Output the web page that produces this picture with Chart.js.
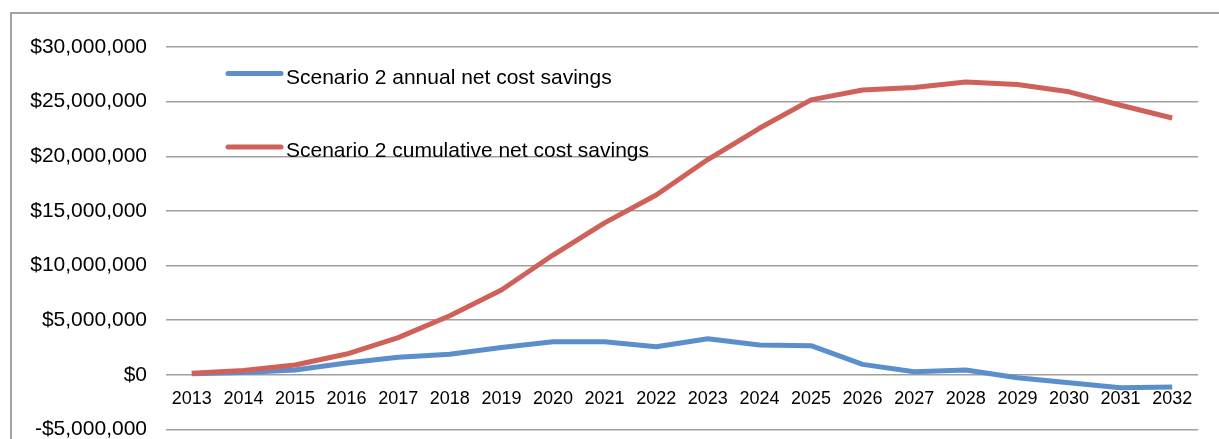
<!DOCTYPE html>
<html>
<head>
<meta charset="utf-8">
<script src="https://cdn.jsdelivr.net/npm/chart.js@4"></script>
<style>
    html, body { margin: 0; padding: 0; background: #ffffff; overflow: hidden; }
    /* the picture is a crop: the plot runs on below the window edge */
    #wrap  { position: relative; width: 1219px; height: 439px; overflow: hidden; }
    #frame {
        position: absolute; left: 10px; top: 12px;
        width: 1230px; height: 480px;
        border: 2px solid #a3a3a3; box-sizing: border-box;
    }
    #chart { position: absolute; left: 0; top: 0; }
</style>
</head>
<body>
<div id="wrap">
    <div id="frame"></div>
    <canvas id="chart" width="1219" height="461"></canvas>
</div>
<script>
// ── Data ─────────────────────────────────────────────────────────────────────

const years = [
    "2013", "2014", "2015", "2016", "2017", "2018", "2019", "2020", "2021", "2022",
    "2023", "2024", "2025", "2026", "2027", "2028", "2029", "2030", "2031", "2032",
];

// Scenario 2 annual net cost savings ($)
const annualSavings = [
    100000, 200000, 430000, 1070000, 1600000, 1870000, 2500000, 3020000, 3020000, 2560000,
    3300000, 2720000, 2660000, 950000, 270000, 430000, -270000, -730000, -1190000, -1130000,
];

// Scenario 2 cumulative net cost savings ($)
const cumulativeSavings = [
    130000, 400000, 900000, 1900000, 3400000, 5400000, 7760000, 10960000, 13900000, 16450000,
    19700000, 22560000, 25160000, 26070000, 26300000, 26800000, 26560000, 25900000, 24670000, 23500000,
];

const seriesNames = [
    "Scenario 2 annual net cost savings",
    "Scenario 2 cumulative net cost savings",
];

// ── Helpers ──────────────────────────────────────────────────────────────────

const FONT = "'Liberation Sans', Arial, sans-serif";

// 25000000 → "$25,000,000", -5000000 → "-$5,000,000"
function fmt(amount) {
    return new Intl.NumberFormat("en-US", {
        style: "currency",
        currency: "USD",
        maximumFractionDigits: 0,
    }).format(amount);
}

// ── Legend drawn inside the plot (top-left) ──────────────────────────────────

const insideLegend = {
    id: "insideLegend",
    afterDraw(chart) {
        const ctx = chart.ctx;
        const rows = [73.5, 147];          // y of each sample line
        ctx.save();
        chart.data.datasets.forEach((ds, i) => {
            const y = rows[i];
            ctx.strokeStyle = ds.borderColor;
            ctx.lineWidth   = 5;
            ctx.lineCap     = "round";
            ctx.beginPath();
            ctx.moveTo(228, y);
            ctx.lineTo(281, y);
            ctx.stroke();

            ctx.fillStyle    = "#000000";
            ctx.font         = `21px ${FONT}`;
            ctx.textBaseline = "alphabetic";
            ctx.textAlign    = "left";
            ctx.fillText(ds.label, 286, y + 10);
        });
        ctx.restore();
    },
};

// ── Chart ────────────────────────────────────────────────────────────────────

new Chart(document.getElementById("chart"), {
    type: "line",
    data: {
        labels: years,
        datasets: [
            {
                label:       seriesNames[0],
                data:        annualSavings,
                borderColor: "#5b8fcb",
                borderWidth: 5,
                pointRadius: 0,
                tension:     0,
                order:       1,
            },
            {
                label:       seriesNames[1],
                data:        cumulativeSavings,
                borderColor: "#cf615a",
                borderWidth: 5,
                pointRadius: 0,
                tension:     0,
                order:       0,          // red line sits on top
            },
        ],
    },
    plugins: [insideLegend],
    options: {
        responsive: false,
        animation:  false,
        borderJoinStyle: "round",
        layout: { padding: { top: 47, right: 21, bottom: 10, left: 0 } },
        plugins: {
            legend:  { display: false },
            tooltip: { enabled: false },
        },
        scales: {
            x: {
                type:     "category",
                offset:   true,
                position: { y: 0 },       // year labels hang under the $0 line
                grid:     { display: false, drawTicks: false },
                border:   { display: false },
                ticks: {
                    padding:     13,
                    color:       "#000000",
                    font:        { family: FONT, size: 18 },
                    maxRotation: 0,
                    autoSkip:    false,
                },
            },
            y: {
                min: -5000000,
                max: 30000000,
                grid:   { color: "#9f9f9f", lineWidth: 1.5, drawTicks: false },
                border: { display: false },
                afterFit: scale => { scale.width = 166; },
                ticks: {
                    stepSize: 5000000,
                    padding:  19,
                    color:    "#000000",
                    font:     { family: FONT, size: 21 },
                    callback: v => fmt(v),
                },
            },
        },
    },
});
</script>
</body>
</html>
